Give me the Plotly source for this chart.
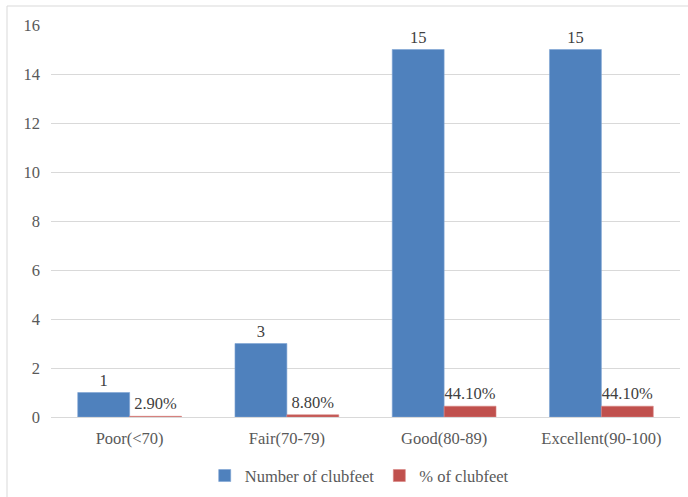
import plotly.graph_objects as go

# Functional outcome categories
categories = ["Poor(<70)", "Fair(70-79)", "Good(80-89)", "Excellent(90-100)"]
# Number of clubfeet in each category
counts = [1, 3, 15, 15]
# Share of clubfeet (fraction, shown as percent)
shares = [0.029, 0.088, 0.441, 0.441]
y_ticks = [0, 2, 4, 6, 8, 10, 12, 14, 16]

FONT = "Liberation Serif"
SIZE = 16.5
BLUE = "#4f81bd"
RED = "#c0504d"

fig = go.Figure()
fig.add_trace(go.Bar(
    x=categories, y=counts, name="Number of clubfeet",
    marker=dict(color=BLUE, line=dict(color="#7ea3d4", width=0.6)),
    texttemplate="%{y}", textposition="outside",
    textfont=dict(family=FONT, size=SIZE, color="#404040"),
    cliponaxis=False,
))
fig.add_trace(go.Bar(
    x=categories, y=shares, name="% of clubfeet",
    marker=dict(color=RED, line=dict(color="#d98583", width=0.6)),
    texttemplate="%{y:.2%}", textposition="outside",
    textfont=dict(family=FONT, size=SIZE, color="#404040"),
    cliponaxis=False,
))

fig.update_layout(
    width=688, height=497,
    margin=dict(l=51, r=8, t=25, b=80, autoexpand=False),
    paper_bgcolor="white", plot_bgcolor="white",
    barmode="group", bargap=0.34, bargroupgap=0,
    font=dict(family=FONT, size=SIZE, color="#595959"),
    showlegend=True,
    legend=dict(orientation="h", x=0.49, xanchor="center", y=-0.15, yanchor="middle",
                font=dict(family=FONT, size=SIZE, color="#595959"),
                itemwidth=30, tracegroupgap=0),
)
fig.update_xaxes(showline=False, showgrid=False, ticks="", ticklabelstandoff=9,
                 automargin=False,
                 tickfont=dict(family=FONT, size=SIZE, color="#595959"))
fig.update_yaxes(range=[0, 16], tickvals=y_ticks, showgrid=True, gridcolor="#d9d9d9",
                 gridwidth=1, zeroline=True, zerolinecolor="#d9d9d9", zerolinewidth=1,
                 showline=False, ticks="", ticklabelstandoff=10, automargin=False,
                 tickfont=dict(family=FONT, size=SIZE, color="#595959"))

# Chart frame edges (top and left)
fig.add_shape(type="line", xref="paper", yref="paper",
              x0=-44 / 629, x1=1.02, y0=411 / 392, y1=411 / 392,
              line=dict(color="#d9d9d9", width=1))
fig.add_shape(type="line", xref="paper", yref="paper",
              x0=-44 / 629, x1=-44 / 629, y0=411 / 392, y1=-0.25,
              line=dict(color="#d9d9d9", width=1))

fig.write_html("out.html")
